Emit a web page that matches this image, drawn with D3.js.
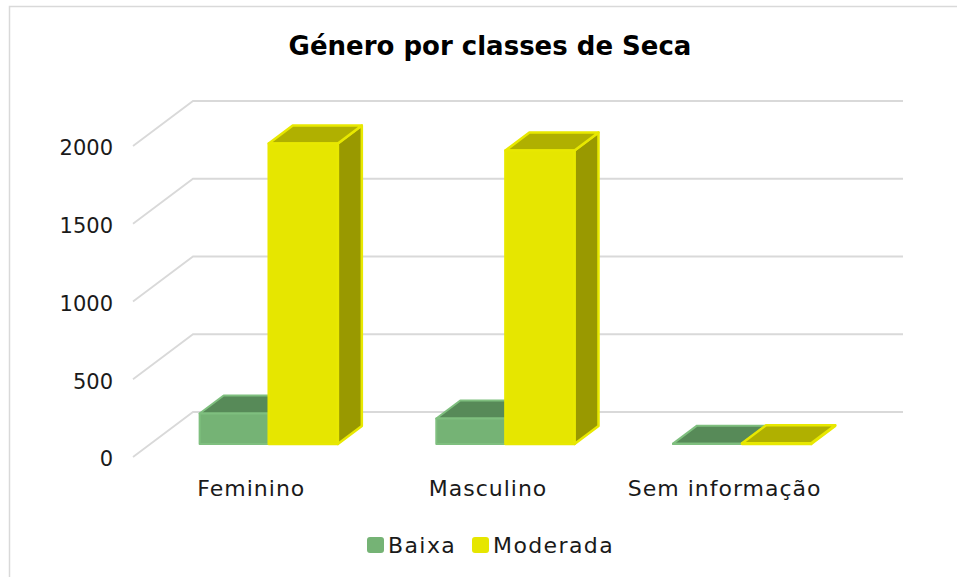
<!DOCTYPE html>
<meta charset="utf-8">
<head>
    <style>
        body {
            margin: 0;
            background: #fff;
            font-family: 'DejaVu Sans', sans-serif;
        }

        .grid {
            fill: none;
            stroke: #d9d9d9;
            stroke-width: 1.8;
        }

        .tick-label, .cat-label, .legend-label {
            font-size: 21px;
            fill: #1a1a1a;
        }

        .cat-label {
            font-size: 22px;
            letter-spacing: 1px;
        }

        .legend-label {
            font-size: 22px;
            letter-spacing: 1.4px;
        }
    </style>
</head>
<body>
    <svg width="957" height="577"></svg>

    <script src="https://d3js.org/d3.v7.min.js"></script>

    <script type="text/javascript">

        // data
        var categories = ["Feminino", "Masculino", "Sem informação"];
        var series = ["Baixa", "Moderada"];
        var baixa = [196, 164, 2];
        var moderada = [1932, 1887, 5];
        var yTicks = [0, 500, 1000, 1500, 2000];

        var colors = {
            Baixa: { front: "#75b375", top: "#578a58", side: "#4e7c4e", edge: "#7fbf7f" },
            Moderada: { front: "#e6e600", top: "#b0b000", side: "#999900", edge: "#e8e800" }
        };

        var svg = d3.select("svg");

        // 3d floor depth offsets
        var depthX = 60, depthY = -45;
        var barZ0 = 0.29, barZ1 = 0.69;

        var x0 = d3.scaleBand()
            .domain(categories)
            .range([133, 843]);

        var x1 = d3.scaleBand()
            .domain(series)
            .range([x0.bandwidth() * 0.208, x0.bandwidth() * 0.792]);

        var y = d3.scaleLinear()
            .domain([0, 2000])
            .range([457, 146]);

        function proj(px, py, z) {
            return [px + depthX * z, py + depthY * z];
        }

        // chart border
        svg.append("rect")
            .attr("x", 9.5)
            .attr("y", 6.5)
            .attr("width", 960)
            .attr("height", 580)
            .attr("fill", "#fff")
            .attr("stroke", "#d9d9d9")
            .attr("stroke-width", 1.5);

        // title
        svg.append("text")
            .attr("x", 490)
            .attr("y", 55)
            .attr("text-anchor", "middle")
            .style("font-size", "26px")
            .style("font-weight", "bold")
            .style("fill", "#000")
            .text("Género por classes de Seca");

        // gridlines: diagonal on the side wall + horizontal on the back wall
        var line = d3.line();
        svg.append("g")
            .selectAll("path")
            .data(yTicks)
            .enter()
            .append("path")
            .attr("class", "grid")
            .attr("d", function (d) {
                var a = proj(x0.range()[0], y(d), 0);
                var b = proj(x0.range()[0], y(d), 1);
                var c = proj(x0.range()[1], y(d), 1);
                return line([a, b, c]);
            });

        svg.append("g")
            .selectAll("text")
            .data(yTicks)
            .enter()
            .append("text")
            .attr("class", "tick-label")
            .attr("x", 113)
            .attr("y", function (d) { return y(d) + 2; })
            .attr("dy", "0.35em")
            .attr("text-anchor", "end")
            .text(function (d) { return d; });

        // bars
        var bars = [];
        categories.forEach(function (c, i) {
            bars.push({ cat: c, s: "Baixa", v: baixa[i] });
            bars.push({ cat: c, s: "Moderada", v: moderada[i] });
        });

        var barG = svg.append("g");

        bars.forEach(function (d) {
            var xl = x0(d.cat) + x1(d.s);
            var xr = xl + x1.bandwidth();
            var yb = y(0), yt = y(d.v);
            var col = colors[d.s];

            var fbl = proj(xl, yb, barZ0), fbr = proj(xr, yb, barZ0);
            var ftl = proj(xl, yt, barZ0), ftr = proj(xr, yt, barZ0);
            var bbr = proj(xr, yb, barZ1);
            var btl = proj(xl, yt, barZ1), btr = proj(xr, yt, barZ1);

            var g = barG.append("g")
                .attr("stroke", col.edge)
                .attr("stroke-width", d.s == "Moderada" ? 2.5 : 2)
                .attr("stroke-linejoin", "round");

            // right side
            g.append("path")
                .attr("d", line([fbr, bbr, btr, ftr]) + "Z")
                .attr("fill", col.side);
            // top
            g.append("path")
                .attr("d", line([ftl, btl, btr, ftr]) + "Z")
                .attr("fill", col.top);
            // front
            g.append("path")
                .attr("d", line([fbl, fbr, ftr, ftl]) + "Z")
                .attr("fill", col.front);
        });

        // category labels
        svg.append("g")
            .selectAll("text")
            .data(categories)
            .enter()
            .append("text")
            .attr("class", "cat-label")
            .attr("x", function (d) { return x0(d) + x0.bandwidth() / 2; })
            .attr("y", 496)
            .attr("text-anchor", "middle")
            .text(function (d) { return d; });

        // legend
        var legend = svg.append("g")
            .selectAll("g")
            .data(series)
            .enter()
            .append("g")
            .attr("transform", function (d, i) { return "translate(" + (367 + i * 105) + ",537)"; });

        legend.append("rect")
            .attr("width", 17)
            .attr("height", 16)
            .attr("rx", 3)
            .attr("fill", function (d) { return colors[d].front; });

        legend.append("text")
            .attr("class", "legend-label")
            .attr("x", 21)
            .attr("y", 16)
            .text(function (d) { return d; });

    </script>
</body>
